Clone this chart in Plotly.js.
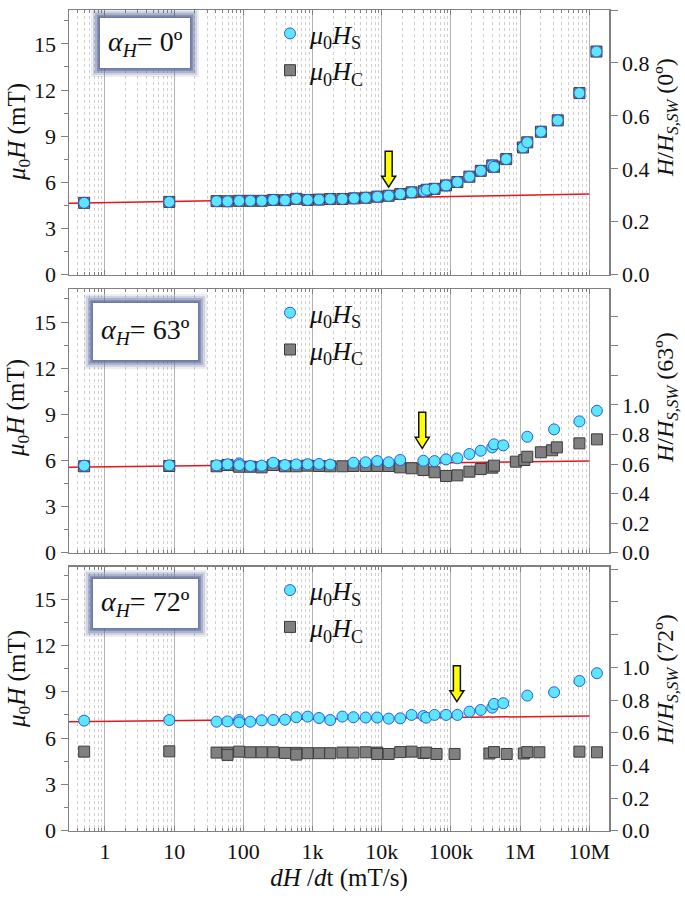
<!DOCTYPE html>
<html>
<head>
<meta charset="utf-8">
<script src="https://cdn.plot.ly/plotly-3.0.1.min.js"></script>
<style>html,body{margin:0;padding:0;background:#fff;}#chart{width:685px;height:898px;}</style>
</head>
<body>
<div id="chart"></div>
<script>
// ---------------- DATA ----------------
// Panel alpha_H = 0 deg
const rate0 = [0.5, 8.5, 41, 59, 87, 126, 184, 270, 400, 582, 850, 1240, 1800, 2700, 3980, 5860, 8670, 12600, 18500, 27000, 40700, 44600, 58000, 85000, 124000, 185000, 270000, 396000, 420000, 630000, 1100000, 1270000, 2000000, 3500000, 7200000, 12700000];
const hs0 = [4.67, 4.73, 4.78, 4.77, 4.80, 4.80, 4.80, 4.86, 4.84, 4.93, 4.86, 4.88, 4.92, 4.92, 4.96, 5.00, 5.07, 5.13, 5.24, 5.35, 5.43, 5.52, 5.58, 5.80, 6.02, 6.37, 6.75, 7.10, 7.01, 7.51, 8.27, 8.60, 9.29, 10.03, 11.80, 14.50];
const hc0 = [4.67, 4.73, 4.78, 4.77, 4.80, 4.80, 4.80, 4.86, 4.84, 4.93, 4.86, 4.88, 4.92, 4.92, 4.96, 5.00, 5.07, 5.13, 5.24, 5.35, 5.43, 5.52, 5.58, 5.80, 6.02, 6.37, 6.75, 7.10, 7.01, 7.51, 8.27, 8.60, 9.29, 10.03, 11.80, 14.50];
const fitRate0 = [0.3, 1e7];
const fit0 = [4.64, 5.24];

// Panel alpha_H = 63 deg
const rateS63 = [0.5, 8.5, 41, 59, 87, 87, 126, 184, 270, 400, 582, 850, 1240, 1800, 3900, 5860, 8600, 12600, 18500, 40000, 58000, 85000, 124000, 185000, 270000, 396000, 420000, 570000, 1270000, 3100000, 7200000, 12900000];
const hs63 = [5.66, 5.68, 5.68, 5.75, 5.81, 5.70, 5.64, 5.66, 5.85, 5.70, 5.74, 5.75, 5.77, 5.73, 5.85, 5.88, 5.96, 5.88, 6.03, 5.98, 5.96, 6.07, 6.14, 6.42, 6.63, 6.85, 7.05, 6.98, 7.54, 8.02, 8.54, 9.23];
const rateC63 = [0.5, 8.5, 41, 59, 87, 126, 184, 270, 400, 582, 850, 1240, 1800, 2700, 3900, 5860, 8600, 12600, 18500, 27000, 40000, 58000, 85000, 124000, 185000, 270000, 396000, 420000, 870000, 1150000, 1270000, 2000000, 2900000, 3400000, 7200000, 12900000];
const hc63 = [5.62, 5.64, 5.62, 5.70, 5.59, 5.59, 5.55, 5.70, 5.62, 5.62, 5.66, 5.64, 5.62, 5.62, 5.64, 5.64, 5.64, 5.64, 5.55, 5.49, 5.38, 5.23, 4.99, 5.03, 5.27, 5.44, 5.53, 5.66, 5.92, 6.03, 6.24, 6.53, 6.66, 6.85, 7.11, 7.37];
const fitRate63 = [0.3, 1e7];
const fit63 = [5.55, 5.96];

// Panel alpha_H = 72 deg
const rateS72 = [0.5, 8.5, 41, 59, 87, 87, 126, 184, 270, 400, 582, 850, 1240, 1800, 2700, 3900, 5860, 8600, 12600, 18500, 27000, 40000, 44000, 58000, 85000, 124000, 185000, 270000, 396000, 420000, 570000, 1270000, 3100000, 7200000, 12900000];
const hs72 = [7.13, 7.17, 7.06, 7.08, 7.17, 7.02, 7.06, 7.15, 7.17, 7.19, 7.35, 7.39, 7.30, 7.17, 7.39, 7.35, 7.33, 7.33, 7.26, 7.28, 7.50, 7.43, 7.32, 7.50, 7.50, 7.50, 7.71, 7.82, 7.97, 8.21, 8.26, 8.75, 8.97, 9.70, 10.20];
const rateC72 = [0.5, 8.5, 41, 59, 59, 87, 126, 184, 270, 400, 582, 582, 850, 1240, 1800, 2700, 3900, 5860, 8600, 8600, 12600, 18500, 27000, 40000, 44000, 62000, 113000, 360000, 420000, 640000, 1130000, 1270000, 1900000, 7200000, 12900000];
const hc72 = [5.12, 5.14, 5.06, 5.06, 4.91, 5.12, 5.08, 5.08, 5.08, 5.04, 5.04, 4.93, 5.02, 5.02, 5.02, 5.06, 5.06, 5.08, 5.06, 4.97, 4.97, 5.09, 5.12, 5.03, 5.06, 4.97, 4.97, 5.00, 5.09, 4.97, 5.00, 5.09, 5.08, 5.12, 5.08];
const fitRate72 = [0.3, 1e7];
const fit72 = [7.06, 7.43];

// Arrow markers (rate, field of arrow tip in mT)
const arrowRate = [12600, 38500, 122000];
const arrowField = [5.69, 6.79, 8.36];

// Labels
const angleLabels = ['0º', '63º', '72º'];
const xTickVals = [1, 10, 100, 1e3, 1e4, 1e5, 1e6, 1e7];
const xTickText = ['1', '10', '100', '1k', '10k', '100k', '1M', '10M'];
const rightAxisTop = [1.0, 1.783, 1.616];
const rightTickVals = [0, 0.2, 0.4, 0.6, 0.8, 1.0];
const rightTickText = ['0.0', '0.2', '0.4', '0.6', '0.8', '1.0'];
const rightExtraTicks = [1.2, 1.4, 1.6];

// ---------------- LAYOUT HELPERS ----------------
const W = 685, H = 898;
const px = v => v / W;
const py = v => 1 - v / H;
const FONT = '"Liberation Serif", "Times New Roman", "DejaVu Serif", serif';
const panels = [
  {top: 10, bot: 274.7, hs: [rate0, hs0], hc: [rate0, hc0], fit: [fitRate0, fit0], yTop: 17.2,
   box: [100, 190, 18, 68], leftTitleY: 132, rightTitleY: 118},
  {top: 289.3, bot: 552.7, hs: [rateS63, hs63], hc: [rateC63, hc63], fit: [fitRate63, fit63], yTop: 17.13,
   box: [93, 198, 303, 360], leftTitleY: 408, rightTitleY: 398},
  {top: 566.7, bot: 830.7, hs: [rateS72, hs72], hc: [rateC72, hc72], fit: [fitRate72, fit72], yTop: 17.1,
   box: [93, 198, 579, 628], leftTitleY: 679, rightTitleY: 680}
];
const xDom = [px(69), px(609)];

const traces = [];
const layout = {
  width: W, height: H,
  margin: {l: 0, r: 0, t: 0, b: 0},
  paper_bgcolor: '#fff', plot_bgcolor: 'rgba(0,0,0,0)',
  font: {family: FONT, size: 22, color: '#111'},
  shapes: [], annotations: []
};

const cyan = '#5fe6ff', blueEdge = '#2a5bdc', grayFill = '#808080', grayEdge = '#3c3c3c';
const tickFont = {family: FONT, size: 22, color: '#111'};
const titleFont = {family: FONT, size: 25, color: '#111'};

panels.forEach((p, i) => {
  const xa = i === 0 ? 'x' : 'x' + (i + 1);
  const yl = i === 0 ? 'y' : 'y' + (2 * i + 1);
  const yr = 'y' + (2 * i + 2);
  const xKey = i === 0 ? 'xaxis' : 'xaxis' + (i + 1);
  const ylKey = i === 0 ? 'yaxis' : 'yaxis' + (2 * i + 1);
  const yrKey = 'yaxis' + (2 * i + 2);
  const lg = i === 0 ? 'legend' : 'legend' + (i + 1);
  const dom = [py(p.bot), py(p.top)];

  traces.push({type: 'scatter', mode: 'lines', x: p.fit[0], y: p.fit[1], xaxis: xa, yaxis: yl,
    line: {color: '#e3161c', width: 1.5}, showlegend: false, hoverinfo: 'skip'});
  traces.push({type: 'scatter', mode: 'markers', x: p.hc[0], y: p.hc[1], xaxis: xa, yaxis: yl,
    name: '<i>μ</i><sub>0</sub><i>H</i><sub>C</sub>', legend: lg, legendrank: 2,
    marker: {symbol: 'square', size: 11, color: grayFill, line: {color: grayEdge, width: 1}}});
  traces.push({type: 'scatter', mode: 'markers', x: p.hs[0], y: p.hs[1], xaxis: xa, yaxis: yl,
    name: '<i>μ</i><sub>0</sub><i>H</i><sub>S</sub>', legend: lg, legendrank: 1,
    marker: {symbol: 'circle', size: 11, color: cyan, line: {color: blueEdge, width: 1}}});
  traces.push({type: 'scatter', mode: 'markers', x: [], y: [], xaxis: xa, yaxis: yr, showlegend: false});

  layout[xKey] = {
    type: 'log', domain: xDom, anchor: yl, range: [-0.52, 7.285],
    tickmode: 'array', tickvals: xTickVals, ticktext: xTickText, showticklabels: i === 2,
    ticks: 'inside', ticklen: 5, tickwidth: 1, tickcolor: '#808080',
    showline: true, linecolor: '#808080', linewidth: 1.5, mirror: 'ticks',
    showgrid: true, gridcolor: '#b2b2b2', gridwidth: 1, zeroline: false,
    minor: {dtick: 'D1', showgrid: true, gridcolor: '#cfcfcf', griddash: '3px,3px', gridwidth: 1,
            ticks: 'inside', ticklen: 3, tickcolor: '#808080'},
    tickfont: tickFont,
    automargin: false
  };
  if (i === 2) {
    layout[xKey].title = {text: '<i>dH</i> /<i>d</i>t (mT/s)', font: titleFont, standoff: 2};
  }
  layout[ylKey] = {
    domain: dom, anchor: xa, range: [0, p.yTop], dtick: 3,
    ticks: 'outside', ticklen: 7, tickwidth: 1, tickcolor: '#808080',
    showline: true, linecolor: '#808080', linewidth: 1.5, showgrid: false, zeroline: false,
    minor: {dtick: 1.5, ticks: 'outside', ticklen: 4, tickcolor: '#808080'},
    tickfont: tickFont,
    automargin: false
  };
  const yr_ = {
    domain: dom, anchor: xa, overlaying: yl, side: 'right', range: [0, rightAxisTop[i]],
    tickmode: 'array', tickvals: rightTickVals, ticktext: rightTickText,
    ticks: 'outside', ticklen: 7, tickwidth: 1, tickcolor: '#808080',
    showline: true, linecolor: '#808080', linewidth: 1.5, showgrid: false, zeroline: false,
    tickfont: tickFont,
    automargin: false
  };
  if (rightAxisTop[i] > 1.05) {
    yr_.minor = {tickmode: 'array', tickvals: rightExtraTicks, ticks: 'outside', ticklen: 7, tickcolor: '#808080', showgrid: false};
  }
  layout[yrKey] = yr_;
  layout[lg] = {
    x: px(270), y: py(p.top), xanchor: 'left', yanchor: 'top',
    bgcolor: 'rgba(0,0,0,0)', borderwidth: 0,
    font: {family: FONT, size: 26, color: '#111'}, traceorder: 'normal', itemwidth: 30
  };

  // axis titles (placed as rotated annotations)
  layout.annotations.push({xref: 'paper', yref: 'paper', x: px(18), y: py(p.leftTitleY),
    xanchor: 'center', yanchor: 'middle', textangle: -90, showarrow: false,
    text: '<i>μ</i><sub>0</sub><i>H</i> (mT)', font: titleFont});
  layout.annotations.push({xref: 'paper', yref: 'paper', x: px(667), y: py(p.rightTitleY),
    xanchor: 'center', yanchor: 'middle', textangle: -90, showarrow: false,
    text: '<i>H</i>/<i>H</i><sub><i>S,SW</i></sub> (' + angleLabels[i] + ')',
    font: {family: FONT, size: 24, color: '#111'}});

  // glow box around the angle label
  const [bx0, bx1, by0, by1] = p.box;
  [[9, 0.12], [7, 0.2], [5, 0.3], [3, 0.45], [1.5, 0.55]].forEach(([d, a]) => {
    layout.shapes.push({type: 'rect', xref: 'paper', yref: 'paper',
      x0: px(bx0 - d), x1: px(bx1 + d), y0: py(by1 + d), y1: py(by0 - d),
      fillcolor: 'rgba(90,105,155,' + a + ')', line: {width: 0}, layer: 'above'});
  });
  layout.shapes.push({type: 'rect', xref: 'paper', yref: 'paper',
    x0: px(bx0), x1: px(bx1), y0: py(by1), y1: py(by0),
    fillcolor: '#ffffff', line: {width: 0}, layer: 'above'});
  layout.annotations.push({xref: 'paper', yref: 'paper', x: px((bx0 + bx1) / 2), y: py((by0 + by1) / 2),
    xanchor: 'center', yanchor: 'middle', showarrow: false,
    text: '<i>α</i><sub><i>H</i></sub>= ' + angleLabels[i], font: {family: FONT, size: 28, color: '#111'}});

  // yellow arrow
  layout.shapes.push({type: 'path', xref: xa, yref: yl, xsizemode: 'pixel', ysizemode: 'pixel',
    xanchor: arrowRate[i], yanchor: arrowField[i],
    path: 'M0,0 L-7,11 L-3.5,11 L-3.5,36 L3.5,36 L3.5,11 L7,11 Z',
    fillcolor: '#ffff00', line: {color: '#111', width: 1.5}, layer: 'above'});
});

Plotly.newPlot('chart', traces, layout, {displayModeBar: false, staticPlot: true});
</script>
</body>
</html>
